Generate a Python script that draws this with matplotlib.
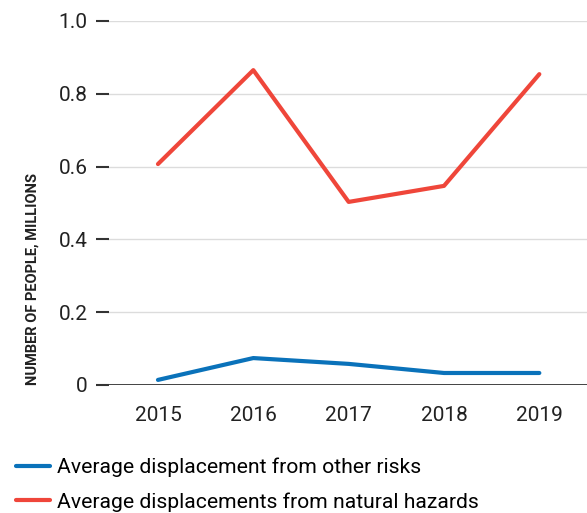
import matplotlib.pyplot as plt
import numpy as np

years = [2015, 2016, 2017, 2018, 2019]
other_risks = [0.014, 0.074, 0.058, 0.033, 0.033]
natural_hazards = [0.607, 0.865, 0.503, 0.547, 0.854]
y_ticks = [0, 0.2, 0.4, 0.6, 0.8, 1.0]
y_labels = ['0', '0.2', '0.4', '0.6', '0.8', '1.0']

plt.rcParams['font.family'] = ['Roboto', 'DejaVu Sans']

fig = plt.figure(figsize=(5.87, 5.13), dpi=100)
ax = fig.add_axes([96 / 587, 1 - 385 / 513, 1 - 96 / 587, (385 - 21) / 513])

blue = '#0a72ba'
red = '#ef463a'

# gridlines start just right of the tick dashes
gx = 12 / 491
for t in y_ticks[1:]:
    ax.axhline(t, xmin=gx, color='#dcdcdc', lw=1, zorder=0)
ax.axhline(0, color='#222222', lw=1.2, zorder=1)

ax.plot(years, other_risks, color=blue, lw=3, solid_capstyle='round',
        label='Average displacement from other risks', zorder=3)
ax.plot(years, natural_hazards, color=red, lw=3, solid_capstyle='round',
        label='Average displacements from natural hazards', zorder=3)

ax.set_xlim(2014.35, 2019.5)
ax.set_ylim(0, 1.0)
ax.set_yticks(y_ticks)
ax.set_yticklabels(y_labels)
ax.set_xticks(years)
ax.set_xticklabels([str(y) for y in years])

for s in ax.spines.values():
    s.set_visible(False)

ax.tick_params(axis='y', direction='in', length=9, width=1.5, color='#333333',
               pad=6, labelsize=15, labelcolor='#222222')
ax.tick_params(axis='x', length=0, pad=15, labelsize=15, labelcolor='#222222')

ax.set_ylabel('NUMBER OF PEOPLE, MILLIONS', fontsize=10.5, fontweight='bold',
              color='#222222')
ax.yaxis.set_label_coords(-0.115, 0.0, transform=ax.transAxes)
ax.yaxis.label.set_va('bottom')
ax.yaxis.label.set_ha('left')

fig.legend(loc='upper left', bbox_to_anchor=(0.027, 0.108), frameon=False,
           fontsize=15.2, handlelength=1.6, handletextpad=0.35, labelspacing=0.72,
           borderaxespad=0, borderpad=0)

fig.savefig('out.png', dpi=100)
